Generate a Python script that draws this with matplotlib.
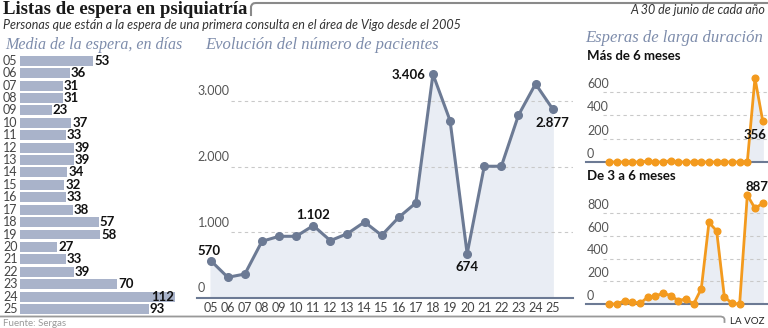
import matplotlib.pyplot as plt
from matplotlib.lines import Line2D

years = ['05', '06', '07', '08', '09', '10', '11', '12', '13', '14', '15',
         '16', '17', '18', '19', '20', '21', '22', '23', '24', '25']
media_dias = [53, 36, 31, 31, 23, 37, 33, 39, 39, 34, 32, 33, 38, 57, 58,
              27, 33, 39, 70, 112, 93]
pacientes = [570, 315, 365, 863, 939, 939, 1102, 873, 980, 1157, 954, 1228,
             1447, 3406, 2700, 674, 2005, 2005, 2782, 3259, 2877]
mas_6_meses = [0, 0, 0, 0, 0, 8, 0, 0, 12, 0, 0, 0, 0, 0, 0, 0, 0, 0, 0,
               720, 356]
de_3_a_6 = [0, 0, 30, 20, 5, 60, 70, 95, 75, 30, 45, 0, 135, 720, 645, 65,
            5, 0, 960, 845, 887]

W, H = 768, 328
SANS = ['Lato', 'DejaVu Sans']
SERIF = ['Liberation Serif', 'DejaVu Serif']
BAR = '#a9b3ca'
SLATE = '#6c7a94'
FILL = '#e9edf4'
ORANGE = '#f39a1e'
HEAD = '#7d8cab'
GRID = '#c9c9c9'
TICK = '#555555'

plt.rcParams['font.family'] = SANS

fig = plt.figure(figsize=(W / 100, H / 100), dpi=100)


def box(x0, y0, x1, y1):
    return [x0 / W, 1 - y1 / H, (x1 - x0) / W, (y1 - y0) / H]


def ftext(x, y, s, **kw):
    fig.text(x / W, 1 - y / H, s, **kw)


# header
ftext(3, 10, 'Listas de espera en psiquiatría', family=SERIF, fontsize=13.5,
      fontweight='bold', color='#1a1a1a', va='center')
ftext(3, 25, 'Personas que están a la espera de una primera consulta en el '
      'área de Vigo desde el 2005', fontsize=9, style='italic',
      color='#333333', va='center')
ftext(765, 10, 'A 30 de junio de cada año', fontsize=9, style='italic',
      color='#333333', va='center', ha='right')
bx = [251, 251, 252, 253.5, 256, W]
by = [15, 6.5, 4.5, 3.3, 3, 3]
fig.add_artist(Line2D([x / W for x in bx], [1 - y / H for y in by],
                      color='#8a8a8a', lw=1.5))

ftext(5, 45, 'Media de la espera, en días', family=SERIF, style='italic',
      fontsize=11.5, color=HEAD, va='center')
ftext(205, 45, 'Evolución del número de pacientes', family=SERIF,
      style='italic', fontsize=12, color=HEAD, va='center')
ftext(585, 38, 'Esperas de larga duración', family=SERIF, style='italic',
      fontsize=12, color=HEAD, va='center')

# left: average waiting days
ax = fig.add_axes(box(20, 54.5, 200, 315.2))
ax.barh(range(len(years)), media_dias, height=0.8, color=BAR)
ax.set_xlim(0, 130.1)
ax.set_ylim(len(years) - 0.5, -0.5)
ax.axis('off')
ytr = ax.get_yaxis_transform()
for i, (yr, v) in enumerate(zip(years, media_dias)):
    ax.text(-17 / 180, i, yr, transform=ytr, ha='left', va='center',
            fontsize=9, color='#444444')
    if v > 100:
        ax.text(v - 0.3, i, str(v), ha='right', va='center', fontsize=9.5,
                fontweight='bold', color='#111111')
    else:
        ax.text(v + 0.8, i, str(v), ha='left', va='center', fontsize=9.5,
                fontweight='bold', color='#111111')

# middle: patients on the list
xs = list(range(len(years)))
ax2 = fig.add_axes(box(197, 66, 573, 298))
ax2.set_xlim(-0.8, 21.19)
ax2.set_ylim(0, 3531)
for s in ['top', 'left', 'right']:
    ax2.spines[s].set_visible(False)
ax2.spines['bottom'].set_color(SLATE)
ax2.spines['bottom'].set_linewidth(1.5)
ax2.set_yticks([])
ax2.set_xticks(xs, years)
ax2.tick_params(axis='x', length=0, pad=3, labelsize=9, labelcolor='#444444')
for v, lab in [(0, '0'), (1000, '1.000'), (2000, '2.000'), (3000, '3.000')]:
    if v:
        ax2.plot([1.2, 21.19], [v, v], ls=(0, (3, 3)), color=GRID, lw=0.8,
                 zorder=1)
    ax2.text(-0.75, v + 55, lab, ha='left', va='bottom', fontsize=9,
             color=TICK)
ax2.fill_between(xs, pacientes, color=FILL, zorder=0)
ax2.plot(xs, pacientes, color=SLATE, lw=2.2, marker='o', ms=5.5, zorder=3,
         clip_on=False)
for i, txt, dx, dy, ha in [(0, '570', -2, 10, 'center'),
                           (6, '1.102', 0, 11, 'center'),
                           (13, '3.406', -7, -1, 'right'),
                           (15, '674', 0, -13, 'center'),
                           (20, '2.877', 0, -14, 'center')]:
    ax2.annotate(txt, (i, pacientes[i]), xytext=(dx, dy),
                 textcoords='offset pixels', ha=ha, va='center',
                 fontsize=9.5, fontweight='bold', color='#111111')


# right: long waits
def long_panel(rect, vals, ymax, ticks, label, lab_dx, lab_dy, idx):
    a = fig.add_axes(box(*rect))
    a.set_xlim(-3.04, 20.7)
    a.set_ylim(0, ymax)
    for s in ['top', 'left', 'right']:
        a.spines[s].set_visible(False)
    a.spines['bottom'].set_color(SLATE)
    a.spines['bottom'].set_linewidth(1.5)
    a.set_xticks([])
    a.set_yticks([])
    for t in ticks:
        if t:
            a.plot([-0.8, 20.7], [t, t], ls=(0, (3, 3)), color=GRID, lw=0.8,
                   zorder=1)
        a.text(-2.9, t + ymax * 0.02, str(t), ha='left', va='bottom',
               fontsize=9, color=TICK)
    a.fill_between(xs, vals, color=FILL, zorder=0)
    a.plot(xs, vals, color=ORANGE, lw=2, marker='o', ms=4.8, zorder=3,
           clip_on=False)
    a.annotate(label, (idx, vals[idx]), xytext=(lab_dx, lab_dy),
               textcoords='offset pixels', ha='center', va='center',
               fontsize=9.5, fontweight='bold', color='#111111')
    return a


ftext(587, 56, 'Más de 6 meses', fontsize=9.5, fontweight='bold',
      color='#111111', va='center')
long_panel((586, 65, W, 162), mas_6_meses, 833, [0, 200, 400, 600],
           '356', -8, -14, 20)
ftext(587, 176, 'De 3 a 6 meses', fontsize=9.5, fontweight='bold',
      color='#111111', va='center')
long_panel((586, 185, W, 304), de_3_a_6, 1050, [0, 200, 400, 600, 800],
           '887', -6, 16, 20)

# footer
fx = [0, 721, 723.5, 724.5, 724.5]
fy = [316.5, 316.5, 317.3, 319, 322]
fig.add_artist(Line2D([x / W for x in fx], [1 - y / H for y in fy],
                      color='#999999', lw=1.3))
ftext(3, 323, 'Fuente: Sergas', fontsize=7, color='#999999', va='center')
ftext(764, 322, 'LA VOZ', fontsize=7, color='#222222', va='center',
      ha='right')

fig.savefig('out.png', dpi=100)
